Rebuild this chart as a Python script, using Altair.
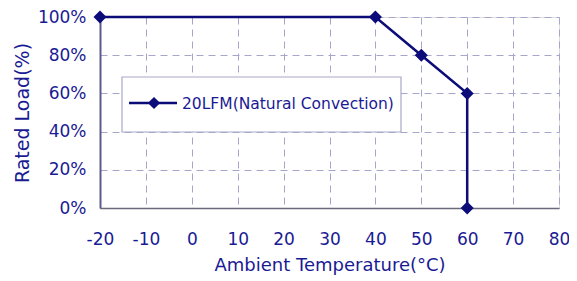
import altair as alt
import pandas as pd

temps = [-20, 40, 50, 60, 60]
loads = [100, 100, 80, 60, 0]
order = [0, 1, 2, 3, 4]
series_name = "20LFM(Natural Convection)"
x_ticks = [-20, -10, 0, 10, 20, 30, 40, 50, 60, 70, 80]
y_ticks = [0, 20, 40, 60, 80, 100]

df = pd.DataFrame({"temp": temps, "load": loads, "ord": order})

NAVY = "#0b0b7a"
TEXT = "#1a1a94"
GRID = "#a6a6cc"
FONT = "DejaVu Sans"

W, H = 459, 191

x_enc = alt.X("temp:Q",
              scale=alt.Scale(domain=[-20, 80], nice=False, zero=False),
              axis=alt.Axis(values=x_ticks, title="Ambient Temperature(°C)",
                            labelExpr="'' + datum.value",
                            grid=True, ticks=False, domain=True,
                            domainColor="#6a6a7a", domainWidth=1.5,
                            labelFontSize=17, labelPadding=23, labelOverlap=False,
                            labelFlush=False,
                            titleFontSize=18, titlePadding=9,
                            labelColor=TEXT, titleColor=TEXT,
                            labelFont=FONT, titleFont=FONT, titleFontWeight="normal",
                            gridColor=GRID, gridDash=[7, 5], gridWidth=1))
y_enc = alt.Y("load:Q",
              scale=alt.Scale(domain=[0, 100], nice=False),
              axis=alt.Axis(values=y_ticks, title="Rated Load(%)",
                            labelExpr="datum.value + '%'",
                            grid=True, ticks=False, domain=True,
                            domainColor="#5a5a8c", domainWidth=2,
                            labelFontSize=17, labelPadding=14, labelOverlap=False,
                            labelFlush=False, labelBound=False,
                            titleFontSize=19, titlePadding=5,
                            labelColor=TEXT, titleColor=TEXT,
                            labelFont=FONT, titleFont=FONT, titleFontWeight="normal",
                            gridColor=GRID, gridDash=[7, 5], gridWidth=1))

base = alt.Chart(df)
line = base.mark_line(color=NAVY, strokeWidth=2.5, clip=False).encode(
    x=x_enc, y=y_enc, order="ord:Q")
pts = base.mark_point(shape="diamond", filled=True, color=NAVY, size=170,
                      opacity=1, clip=False).encode(x=x_enc, y=y_enc)

leg_df = pd.DataFrame({"name": [series_name]})
leg_base = alt.Chart(leg_df)
leg_box = leg_base.mark_rect(fill="white", stroke="#a8a8c8", strokeWidth=1.2).encode(
    x=alt.value(22), x2=alt.value(301), y=alt.value(60), y2=alt.value(115))
leg_line = leg_base.mark_rule(color=NAVY, strokeWidth=2.5).encode(
    x=alt.value(29), x2=alt.value(77), y=alt.value(86))
leg_pt = leg_base.mark_point(shape="diamond", filled=True, color=NAVY, size=150,
                             opacity=1).encode(x=alt.value(54), y=alt.value(86))
leg_txt = leg_base.mark_text(align="left", baseline="middle", fontSize=15.5,
                             font=FONT, color=TEXT).encode(
    x=alt.value(82), y=alt.value(87), text="name:N")

chart = alt.layer(line, leg_box, leg_line, leg_pt, leg_txt, pts).properties(
    width=W, height=H,
    autosize=alt.AutoSizeParams(type="none"),
    padding={"left": 92, "top": 9, "right": 10, "bottom": 73},
).configure_view(stroke="#8a8a9a", strokeWidth=1.5).configure_axis(
    labelOverlap=False
).configure(background="white")

chart.save("out.html", embed_options={"renderer": "svg", "actions": False})
